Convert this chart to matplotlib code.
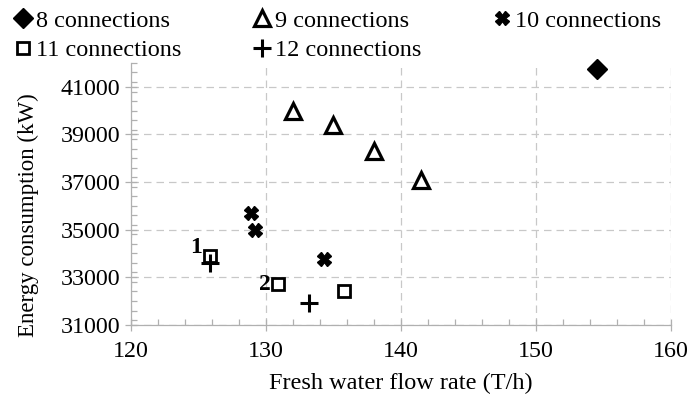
import matplotlib
matplotlib.use('Agg')
import matplotlib.pyplot as plt
from matplotlib.ticker import MultipleLocator

plt.rcParams['font.family'] = 'Liberation Serif'
plt.rcParams['font.size'] = 17

# fresh water flow rate (T/h) and energy consumption (kW) per connection count
x8 = [154.5]
y8 = [41750]
x9 = [132.0, 135.0, 138.0, 141.5]
y9 = [40000, 39400, 38300, 37100]
x10 = [128.9, 129.2, 134.3]
y10 = [35700, 35000, 33750]
x11 = [125.9, 130.9, 135.8]
y11 = [33900, 32700, 32400]
x12 = [125.9, 133.2]
y12 = [33600, 31900]

point_labels = ['1', '2']
label_x = [125.9, 130.9]
label_y = [33900, 32700]

fig = plt.figure(figsize=(6.91, 4.01), dpi=100)
ax = fig.add_axes([0.189, 0.19, 0.782, 0.653])

h8, = ax.plot(x8, y8, 'D', color='black', markersize=10, linestyle='none', clip_on=False)
h9, = ax.plot(x9, y9, '^', markerfacecolor='white', markeredgecolor='black',
              markeredgewidth=2.3, markersize=11, linestyle='none')
h10, = ax.plot(x10, y10, 'X', color='black', markeredgecolor='black',
               markersize=10, linestyle='none')
h11, = ax.plot(x11, y11, 's', markerfacecolor='white', markeredgecolor='black',
               markeredgewidth=2.0, markersize=9, linestyle='none')
h12, = ax.plot(x12, y12, '+', color='black', markeredgewidth=2.2,
               markersize=13, linestyle='none')

ax.text(label_x[0] - 0.65, label_y[0] + 350, point_labels[0], fontweight='bold',
        ha='right', va='center', fontsize=17)
ax.text(label_x[1] - 0.55, label_y[1], point_labels[1], fontweight='bold',
        ha='right', va='center', fontsize=17)

ax.set_xlim(120, 160)
ax.set_ylim(31000, 42000)
ax.xaxis.set_major_locator(MultipleLocator(10))
ax.xaxis.set_minor_locator(MultipleLocator(2))
ax.set_yticks([31000, 33000, 35000, 37000, 39000, 41000])
ax.yaxis.set_minor_locator(MultipleLocator(400))

ax.grid(True, which='major', color='#c8c8c8', linestyle=(0, (6, 4)), linewidth=0.9)
ax.set_axisbelow(True)

for s in ['top', 'right']:
    ax.spines[s].set_visible(False)
for s in ['left', 'bottom']:
    ax.spines[s].set_color('#b0b0b0')
    ax.spines[s].set_linewidth(0.9)

ax.tick_params(which='major', direction='inout', length=8, color='#b0b0b0', width=0.9,
               labelsize=17.3)
ax.tick_params(axis='x', which='major', pad=8)
ax.tick_params(axis='y', which='major', pad=3.5)
ax.tick_params(which='minor', direction='in', length=4, color='#b0b0b0', width=0.9)

ax.set_xlabel('Fresh water flow rate (T/h)', fontsize=17.5)
ax.xaxis.set_label_coords(0.5, -0.185)
ax.set_ylabel('Energy consumption (kW)', fontsize=16.5)
ax.yaxis.set_label_coords(-0.17, 0.42)

handles = [h8, h11, h9, h12, h10]
names = ['8 connections', '11 connections', '9 connections', '12 connections', '10 connections']
fig.legend(handles, names, ncol=3, frameon=False, loc='upper left',
           bbox_to_anchor=(0.005, 1.0), handlelength=0.8, handletextpad=0.15,
           columnspacing=2.9, labelspacing=0.3, borderaxespad=0, fontsize=17.5)

fig.savefig('out.png', dpi=100)
